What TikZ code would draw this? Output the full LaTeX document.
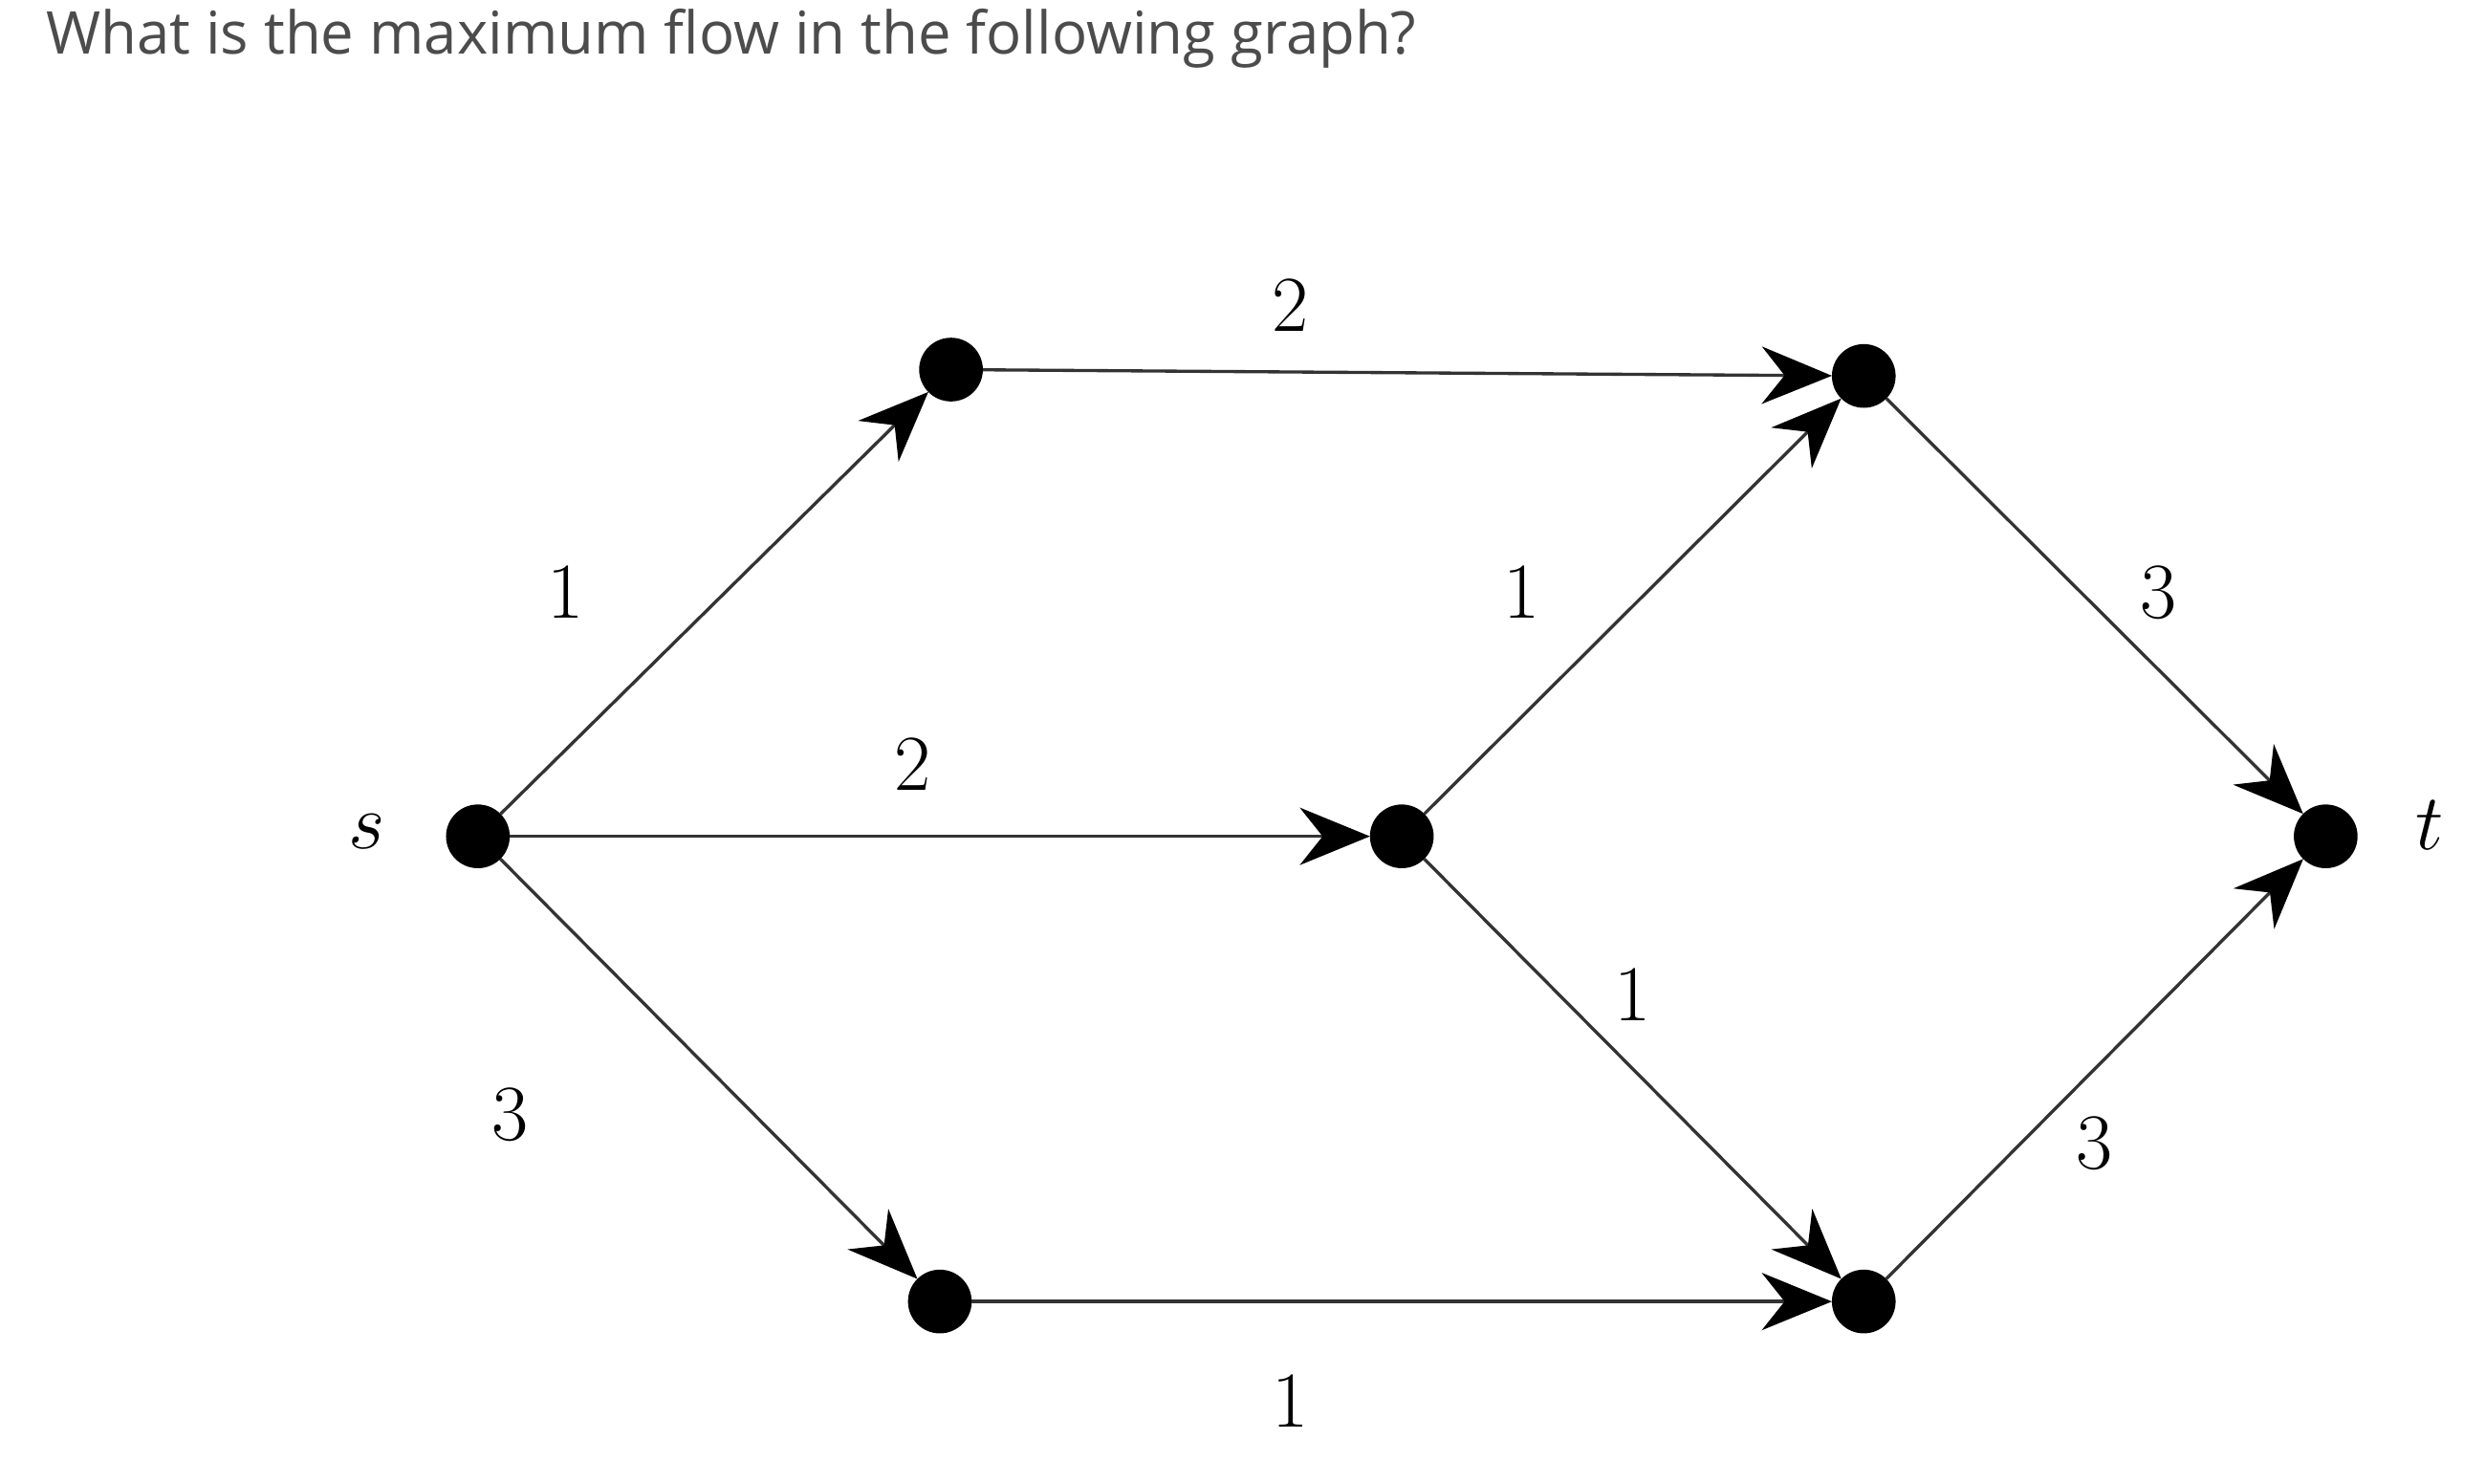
\documentclass[tikz,border=0pt]{standalone}
\usepackage{fontspec}
\newfontfamily\titlefont{Open Sans}
\usetikzlibrary{arrows.meta}
\begin{document}
\begin{tikzpicture}[x=0.5pt,y=-0.5pt,
  vtx/.style={circle,fill=black,inner sep=0pt,minimum size=20pt,outer sep=0pt},
  edge/.style={draw=black!80,line width=1pt,-{Stealth[length=22pt,width=18pt,color=black]}},
  lbl/.style={font=\fontsize{40}{44}\selectfont}]
\useasboundingbox (0,0) rectangle (1560,931);
\node[anchor=west,text=black!70,font=\titlefont\fontsize{18.5}{22}\selectfont] (title) at (22,24) {What is the maximum flow in the following graph?};
\node[vtx] (s) at (300,525) {};
\node[vtx] (a) at (597,232) {};
\node[vtx] (b) at (880,525) {};
\node[vtx] (c) at (590,817) {};
\node[vtx] (d) at (1170,236) {};
\node[vtx] (e) at (1170,817) {};
\node[vtx] (t) at (1460,525) {};
\node[lbl] (ls) at (230,522) {$s$};
\node[lbl] (lt) at (1525,518) {$t$};
\draw[edge] (s) -- (a);
\draw[edge] (s) -- (b);
\draw[edge] (s) -- (c);
\draw[edge] (a) -- (d);
\draw[edge] (b) -- (d);
\draw[edge] (b) -- (e);
\draw[edge] (c) -- (e);
\draw[edge] (d) -- (t);
\draw[edge] (e) -- (t);
\node[lbl] (l1) at (810,192) {$2$};
\node[lbl] (l2) at (355,372) {$1$};
\node[lbl] (l3) at (573,480) {$2$};
\node[lbl] (l4) at (320,700) {$3$};
\node[lbl] (l5) at (955,372) {$1$};
\node[lbl] (l6) at (1025,625) {$1$};
\node[lbl] (l7) at (1355,372) {$3$};
\node[lbl] (l8) at (1315,718) {$3$};
\node[lbl] (l9) at (810,880) {$1$};
\end{tikzpicture}
\end{document}
